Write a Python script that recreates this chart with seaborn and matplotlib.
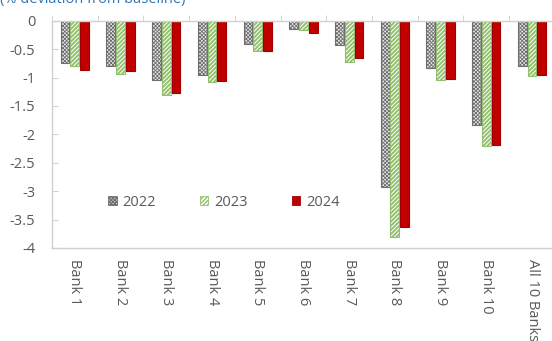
import pandas as pd
import matplotlib
matplotlib.use("Agg")
import matplotlib.pyplot as plt
import seaborn as sns
from matplotlib.patches import Patch
from matplotlib.ticker import MultipleLocator, FixedLocator

banks = ["Bank 1", "Bank 2", "Bank 3", "Bank 4", "Bank 5", "Bank 6", "Bank 7",
         "Bank 8", "Bank 9", "Bank 10", "All 10 Banks"]
years = ["2022", "2023", "2024"]
v2022 = [-0.74, -0.80, -1.05, -0.96, -0.41, -0.15, -0.43, -2.92, -0.84, -1.84, -0.80]
v2023 = [-0.80, -0.94, -1.30, -1.08, -0.53, -0.17, -0.73, -3.81, -1.05, -2.20, -0.98]
v2024 = [-0.87, -0.89, -1.28, -1.06, -0.53, -0.21, -0.66, -3.63, -1.02, -2.18, -0.96]

df = pd.DataFrame({
    "bank": banks * 3,
    "year": [y for y in years for _ in banks],
    "value": v2022 + v2023 + v2024,
})

sns.set_style("white")
plt.rcParams["font.family"] = ["Open Sans", "DejaVu Sans"]
plt.rcParams["hatch.linewidth"] = 1.0

styles = {
    "2022": dict(facecolor="#e8e8e8", edgecolor="#6e6e6e", hatch="xxxxxxxxx", hlw=0.6),
    "2023": dict(facecolor="white", edgecolor="#92c06e", hatch="////////", hlw=1.4),
    "2024": dict(facecolor="#C00000", edgecolor="#a00000", hatch=None, hlw=1.0),
}

fig = plt.figure(figsize=(5.52, 3.41), dpi=100)
ax = fig.add_axes([0.0942, 0.273, 0.911, 0.666])

sns.barplot(data=df, x="bank", y="value", hue="year", order=banks, hue_order=years,
            width=0.64, gap=0.1, ax=ax, legend=False)


def style_patch(p, st):
    p.set_facecolor(st["facecolor"])
    p.set_edgecolor(st["edgecolor"])
    p.set_hatch(st["hatch"])
    p.set_linewidth(0.8)
    if hasattr(p, "set_hatch_linewidth"):
        p.set_hatch_linewidth(st["hlw"])


for cont, yr in zip(ax.containers, years):
    for bar in cont:
        style_patch(bar, styles[yr])

ax.set_ylim(-4, 0)
ax.set_xlim(-0.5, len(banks) - 0.5)
ax.yaxis.set_major_locator(MultipleLocator(0.5))
ax.set_yticklabels([f"{t:g}" for t in ax.get_yticks()])
ax.set_xlabel("")
ax.set_ylabel("")

for side in ["left", "top", "bottom"]:
    ax.spines[side].set_visible(True)
    ax.spines[side].set_color("#d0d0d0")
    ax.spines[side].set_linewidth(1.0)
ax.spines["right"].set_visible(False)

ax.tick_params(axis="y", which="major", direction="in", length=4, color="#d0d0d0",
               labelsize=10.5, labelcolor="#595959", pad=12, left=True)
ax.tick_params(axis="x", which="major", length=0, labelsize=10.5,
               labelcolor="#595959", pad=8, labelrotation=-90)
for lbl in ax.get_xticklabels():
    lbl.set_va("top")
    lbl.set_ha("center")
ax.xaxis.set_minor_locator(FixedLocator([i - 0.5 for i in range(len(banks) + 1)]))
ax.tick_params(axis="x", which="minor", top=True, bottom=False, direction="out",
               length=4, color="#d0d0d0")

handles = []
for y in years:
    h = Patch(facecolor=styles[y]["facecolor"], edgecolor=styles[y]["edgecolor"],
              hatch=styles[y]["hatch"], linewidth=0.6)
    handles.append(h)
ax.legend(handles, years, loc="center left", bbox_to_anchor=(0.085, 0.2), ncol=3,
          frameon=False, fontsize=10.5, labelcolor="#595959", handlelength=0.6,
          handleheight=0.6, handletextpad=0.4, columnspacing=3.0)

fig.text(0.0, 1.0 - 3 / 341, "(% deviation from baseline)", color="#2E75B6",
         fontsize=10.5, ha="left", va="baseline")

fig.savefig("out.png", dpi=100)
